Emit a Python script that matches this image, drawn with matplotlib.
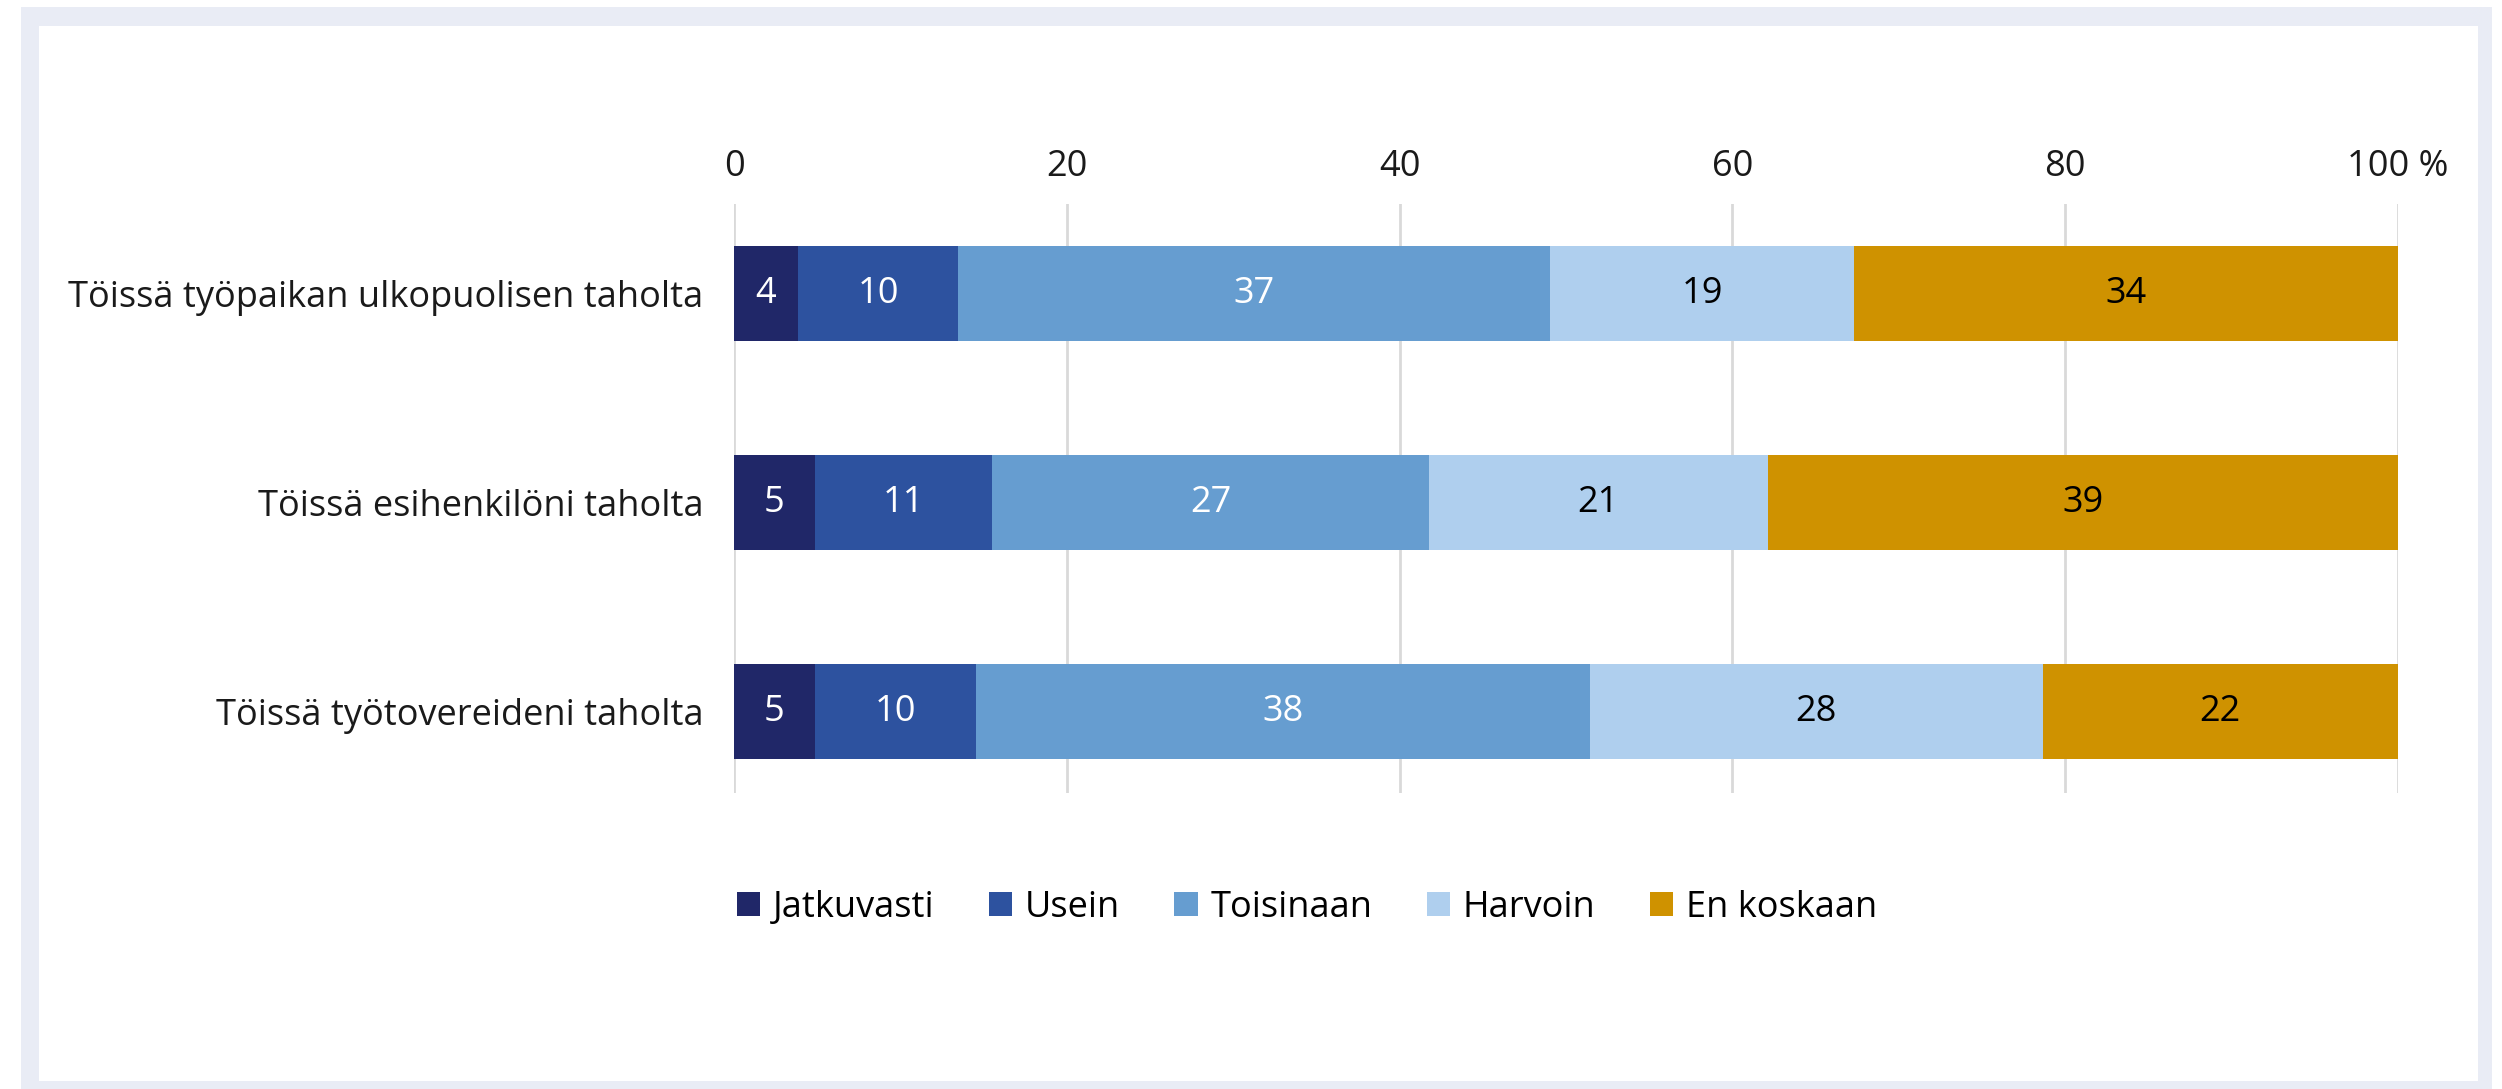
import matplotlib
matplotlib.use("Agg")
import matplotlib.pyplot as plt
from matplotlib.patches import Rectangle
import numpy as np

categories = ["Töissä työpaikan ulkopuolisen taholta",
              "Töissä esihenkilöni taholta",
              "Töissä työtovereideni taholta"]
series_names = ["Jatkuvasti", "Usein", "Toisinaan", "Harvoin", "En koskaan"]
jatkuvasti = [4, 5, 5]
usein = [10, 11, 10]
toisinaan = [37, 27, 38]
harvoin = [19, 21, 28]
en_koskaan = [34, 39, 22]
colors = ["#202768", "#2D529F", "#669DD0", "#AFCFEE", "#CF9200"]
text_colors = ["white", "white", "white", "black", "black"]
xticks = [0, 20, 40, 60, 80, 100]
xtick_labels = ["0", "20", "40", "60", "80", "100 %"]

plt.rcParams['font.family'] = ['Open Sans', 'DejaVu Sans']
FS = 26

W, H = 2502, 1089
fig = plt.figure(figsize=(W / 100, H / 100), dpi=100)
fig.patch.set_facecolor("white")
# frame
fig.patches.append(Rectangle((21 / W, 0), (2492 - 21) / W, (1089 - 7) / H,
                             transform=fig.transFigure, facecolor="#E9ECF5",
                             edgecolor="none", zorder=-10))
fig.patches.append(Rectangle((39 / W, 8 / H), (2478 - 39) / W, (1089 - 26 - 8) / H,
                             transform=fig.transFigure, facecolor="white",
                             edgecolor="none", zorder=-9))

ax = fig.add_axes([734 / W, 1 - 793 / H, (2398 - 734) / W, (793 - 204) / H])
ax.set_facecolor("none")

data = np.array([jatkuvasti, usein, toisinaan, harvoin, en_koskaan], dtype=float)
totals = data.sum(axis=0)
pct = data / totals * 100
y = np.arange(len(categories))
left = np.zeros(len(categories))
for i, name in enumerate(series_names):
    bars = ax.barh(y, pct[i], left=left, height=0.455, color=colors[i],
                   label=name, zorder=3)
    ax.bar_label(bars, labels=[str(int(v)) for v in data[i]], label_type="center",
                 color=text_colors[i], fontsize=FS)
    left += pct[i]

ax.set_xlim(0, 100)
ax.set_ylim(2.39, -0.43)
ax.set_yticks(y)
ax.set_yticklabels(categories, fontsize=FS)
ax.set_xticks(xticks)
ax.set_xticklabels(xtick_labels, fontsize=FS)
ax.xaxis.tick_top()
ax.tick_params(axis="x", length=0, pad=14, colors="#1a1a1a")
ax.tick_params(axis="y", length=0, pad=22, colors="#1a1a1a")
ax.grid(axis="x", color="#D9D9D9", linewidth=2, zorder=0)
for s in ax.spines.values():
    s.set_visible(False)

fig.legend(loc="center", bbox_to_anchor=(1307 / W, 1 - 908 / H), ncol=5,
           frameon=False, fontsize=FS, handlelength=0.65, handleheight=0.65,
           handletextpad=0.35, columnspacing=1.5)

fig.savefig("out.png", dpi=100, facecolor="white")
